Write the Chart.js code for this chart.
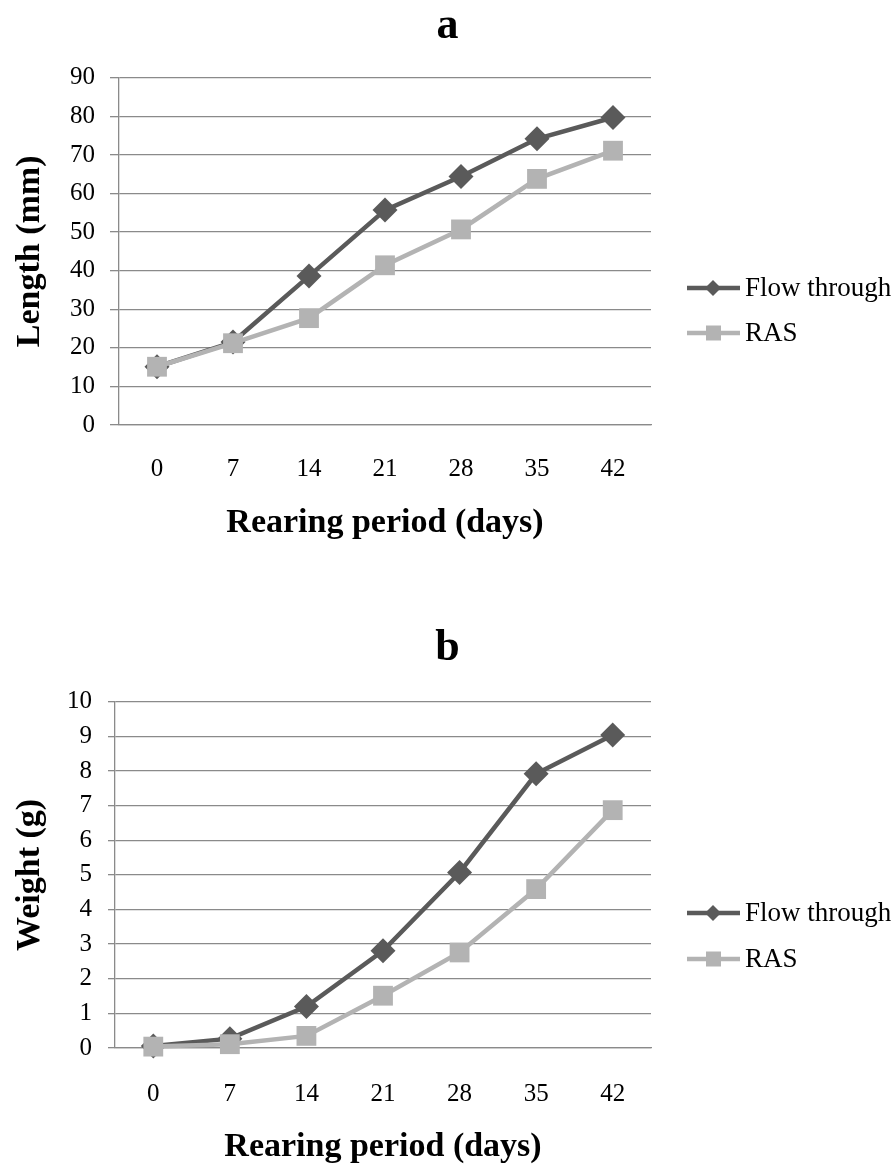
<!DOCTYPE html>
<html lang="en">
<head>
  <meta charset="UTF-8" />
  <title>Length and weight over rearing period</title>
  <script src="https://cdn.jsdelivr.net/npm/chart.js"></script>
  <style>
    body {
      margin: 0;
      background: #fff;
      width: 895px;
      height: 1164px;
      position: relative;
      overflow: hidden;
    }
    .box {
      position: absolute;
      left: 0;
      width: 895px;
    }
    #boxA { top: 0; height: 580px; }
    #boxB { top: 560px; height: 604px; }
  </style>
</head>
<body>
  <div class="box" id="boxA"><canvas id="chartA"></canvas></div>
  <div class="box" id="boxB"><canvas id="chartB"></canvas></div>

  <script>
    const days = ["0", "7", "14", "21", "28", "35", "42"];
    const seriesNames = ["Flow through", "RAS"];

    const lengthFlow = [15.1, 21.5, 38.6, 55.7, 64.4, 74.2, 79.7];
    const lengthRas = [15.1, 21.2, 27.7, 41.4, 50.7, 63.8, 71.1];

    const weightFlow = [0.06, 0.27, 1.2, 2.81, 5.07, 7.92, 9.04];
    const weightRas = [0.04, 0.11, 0.35, 1.51, 2.76, 4.59, 6.87];

    const DARK = "#5a5a5a";
    const LIGHT = "#b3b3b3";
    const GRID = "#8a8a8a";
    const SERIF = "'Liberation Serif', 'Times New Roman', serif";

    // legend drawn by hand: a short line with the marker on it, text to the right
    const sideLegend = {
      id: "sideLegend",
      afterDraw(chart, args, opts) {
        const ctx = chart.ctx;
        ctx.save();
        chart.data.datasets.forEach((ds, i) => {
          const y = opts.rows[i];
          ctx.strokeStyle = ds.borderColor;
          ctx.lineWidth = 4.5;
          ctx.beginPath();
          ctx.moveTo(687, y);
          ctx.lineTo(740, y);
          ctx.stroke();
          ctx.fillStyle = ds.borderColor;
          ctx.beginPath();
          if (ds.pointStyle === "rectRot") {
            ctx.moveTo(713, y - 8);
            ctx.lineTo(721, y);
            ctx.lineTo(713, y + 8);
            ctx.lineTo(705, y);
          } else {
            ctx.rect(706, y - 7.5, 15, 15);
          }
          ctx.closePath();
          ctx.fill();
          ctx.fillStyle = "#000";
          ctx.font = "27px " + SERIF;
          ctx.textBaseline = "middle";
          ctx.textAlign = "left";
          ctx.fillText(ds.label, 745, y + 1);
        });
        ctx.restore();
      }
    };

    function makeChart(id, cfg) {
      const ctx = document.getElementById(id).getContext("2d");
      return new Chart(ctx, {
        type: "line",
        data: {
          labels: days,
          datasets: [
            {
              label: seriesNames[0],
              data: cfg.flow,
              borderColor: DARK,
              backgroundColor: DARK,
              borderWidth: 4.5,
              tension: 0,
              clip: false,
              pointStyle: "rectRot",
              pointRadius: 12.5,
              pointBorderWidth: 0,
              pointBackgroundColor: DARK,
              order: 1
            },
            {
              label: seriesNames[1],
              data: cfg.ras,
              borderColor: LIGHT,
              backgroundColor: LIGHT,
              borderWidth: 4.5,
              tension: 0,
              clip: false,
              pointStyle: "rect",
              pointRadius: 14,
              pointBorderWidth: 0,
              pointBackgroundColor: LIGHT,
              order: 0
            }
          ]
        },
        options: {
          responsive: true,
          maintainAspectRatio: false,
          animation: false,
          events: [],
          layout: {
            padding: { left: 0, right: 0, top: 0, bottom: cfg.padBottom }
          },
          plugins: {
            legend: { display: false },
            tooltip: { enabled: false },
            title: {
              display: true,
              text: cfg.title,
              color: "#000",
              font: { family: SERIF, size: 44, weight: "bold" },
              padding: { top: cfg.titleTop, bottom: cfg.titleBottom }
            },
            sideLegend: { rows: cfg.legendRows }
          },
          scales: {
            x: {
              offset: true,
              grid: { display: false },
              border: { display: true, color: GRID, width: 1.3 },
              ticks: {
                color: "#000",
                padding: cfg.xPad,
                font: { family: SERIF, size: 25 }
              },
              title: {
                display: true,
                text: "Rearing period (days)",
                color: "#000",
                font: { family: SERIF, size: 34, weight: "bold", lineHeight: 1 },
                padding: 0
              },
              afterFit(scale) { scale.height = cfg.xHeight; }
            },
            y: {
              min: 0,
              max: cfg.max,
              grid: {
                color: GRID,
                lineWidth: 1.3,
                drawTicks: true,
                tickLength: cfg.tickLen
              },
              border: { display: true, color: GRID, width: 1.3 },
              ticks: {
                stepSize: cfg.step,
                color: "#000",
                padding: cfg.yPad,
                font: { family: SERIF, size: 25 }
              },
              title: {
                display: true,
                text: cfg.yTitle,
                color: "#000",
                font: { family: SERIF, size: 34, weight: "bold", lineHeight: 1 },
                padding: { top: 13, bottom: 0 }
              },
              afterFit(scale) { scale.width = cfg.left; }
            },
            // empty right-hand axis: only keeps room for the legend
            side: {
              position: "right",
              display: true,
              grid: { display: false },
              border: { display: false },
              ticks: { display: false },
              afterFit(scale) { scale.width = 895 - cfg.right; }
            }
          }
        },
        plugins: [sideLegend]
      });
    }

    makeChart("chartA", {
      title: "a",
      yTitle: "Length (mm)",
      flow: lengthFlow,
      ras: lengthRas,
      max: 90,
      step: 10,
      left: 119,
      right: 651,
      tickLen: 9,
      yPad: 15,
      xPad: 21,
      titleTop: 0,
      titleBottom: 25,
      padBottom: 40,
      xHeight: 115,
      legendRows: [288, 333]
    });

    makeChart("chartB", {
      title: "b",
      yTitle: "Weight (g)",
      flow: weightFlow,
      ras: weightRas,
      max: 10,
      step: 1,
      left: 115,
      right: 651,
      tickLen: 7,
      yPad: 16,
      xPad: 23,
      titleTop: 62,
      titleBottom: 27,
      padBottom: 0,
      xHeight: 116,
      legendRows: [353, 399]
    });
  </script>
</body>
</html>
